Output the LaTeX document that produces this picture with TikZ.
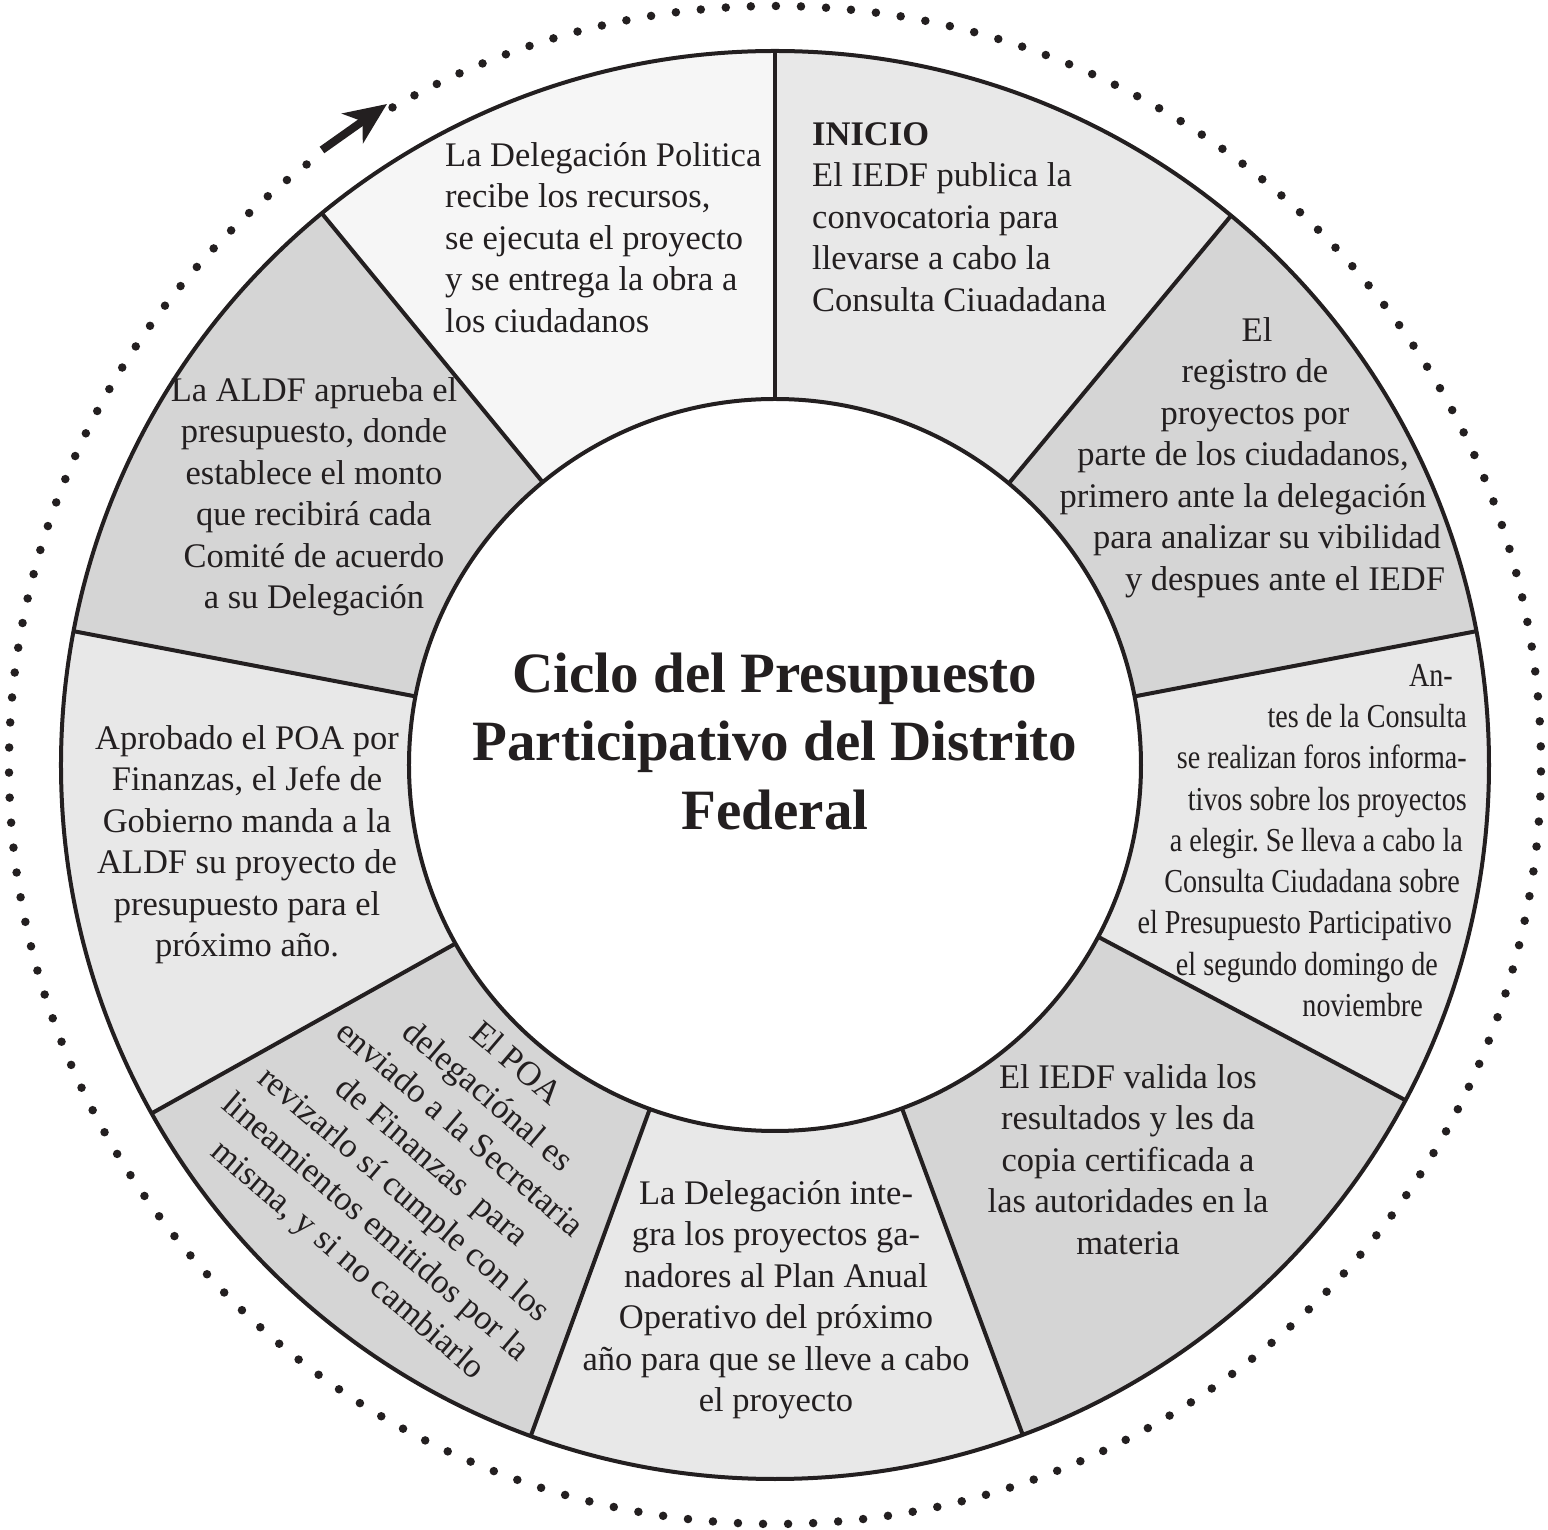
\documentclass[tikz,border=0pt]{standalone}
\usepackage{fontspec}
\setmainfont{Liberation Serif}
\newfontfamily\condfont[FakeStretch=0.84]{Liberation Serif}
\usetikzlibrary{arrows.meta}
\definecolor{ink}{HTML}{231F20}
\definecolor{segW}{gray}{0.965}
\definecolor{segL}{gray}{0.91}
\definecolor{segD}{gray}{0.835}
\newcommand\mygap[1]{\rule{#1}{0pt}}
\frenchspacing
\begin{document}
\begin{tikzpicture}[x=1pt,y=1pt,
  body/.style={inner sep=0pt, text=ink, font=\fontsize{34.5}{41.5}\selectfont},
  cond/.style={inner sep=0pt, text=ink, font=\condfont\fontsize{33.5}{41.3}\selectfont},
  ringline/.style={draw=ink, line width=4pt},
  dots/.style={draw=ink, line width=8.5pt, line cap=round, dash pattern=on 0pt off 25.07pt},
  bigarrow/.style={draw=ink, line width=8pt, -{Stealth[length=42pt,width=36pt,inset=12pt]}}
]
\useasboundingbox (-775,-765) rectangle (773,765);
\def\ri{366pt}\def\ro{714pt}
% sectors
\foreach \a/\b/\c in {90/129.4/segW, 50.3/90/segL, 10.8/50.3/segD, -28/10.8/segL,
  -69.7/-28/segD, -110/-69.7/segL, -150.8/-110/segD, 169.2/209.2/segL, 129.4/169.2/segD}
  \fill[\c] (\a:\ri) arc[start angle=\a, end angle=\b, radius=\ri]
    -- (\b:\ro) arc[start angle=\b, end angle=\a, radius=\ro] -- cycle;
% divider lines
\foreach \a in {90,50.3,10.8,-28,-69.7,-110,-150.8,169.2,129.4}
  \draw[ringline] (\a:\ri) -- (\a:\ro);
\draw[ringline] (0,0) circle[radius=\ro];
\draw[ringline, fill=white] (0,0) circle[radius=\ri];
% dotted ring and arrow
\draw[dots] (127.7:766pt and 759pt) arc[start angle=127.7, end angle=480.3, x radius=766pt, y radius=759pt];
\coordinate (arrtail) at (-453,615);
\coordinate (arrtip) at (-388,661);
\draw[bigarrow] (arrtail) -- (arrtip);
% texts
\node[body, align=left, anchor=north west] (t1) at (-330,628)
  {\strut La Delegación Politica\\ recibe los recursos,\\ se ejecuta el proyecto\\ y se entrega la obra a\\ los ciudadanos};
\node[body, align=left, anchor=north west] (t2) at (37,649)
  {\strut\textbf{INICIO}\\ El IEDF publica la\\ convocatoria para\\ llevarse a cabo la\\ Consulta Ciuadadana};
\node[body, align=center, anchor=north] (t3) at (468,453)
  {\mygap{28pt}\strut El\\ \mygap{24pt}registro de\\ \mygap{24pt}proyectos por\\ parte de los ciudadanos,\\ primero ante la delegación\\ \mygap{48pt}para analizar su vibilidad\\ \mygap{84pt}y despues ante el IEDF};
\node[cond, align=right, anchor=north east] (t4) at (692,108)
  {\strut An-\mygap{14pt}\\ tes de la Consulta\\ se realizan foros informa-\\ tivos sobre los proyectos\\ a elegir. Se lleva a cabo la\mygap{4pt}\\ Consulta Ciudadana sobre\mygap{7pt}\\ el Presupuesto Participativo\mygap{15pt}\\ el segundo domingo de\mygap{29pt}\\ noviembre\mygap{44pt}};
\node[body, align=center, anchor=north] (t5) at (353,-294)
  {\strut El IEDF valida los\\ resultados y les da\\ copia certificada a\\ las autoridades en la\\ materia};
\node[body, align=center, anchor=north] (t6) at (1,-410)
  {\strut La Delegación inte-\\ gra los proyectos ga-\\ nadores al Plan Anual\\ Operativo del próximo\\ año para que se lleve a cabo\\ el proyecto};
\node[body, align=center, rotate=-40.5, font=\fontsize{34.5}{43}\selectfont] (t7) at (-344,-398)
  {\strut El POA\\ delegaciónal es\\ enviado a la Secretaria\\ de Finanzas~ para\\ revizarlo sí cumple con los\\ lineamientos emitidos por la\\ misma, y si no cambiarlo\strut};
\node[body, align=center, anchor=north] (t8) at (-528,45)
  {\strut Aprobado el POA por\\ Finanzas, el Jefe de\\ Gobierno manda a la\\ ALDF su proyecto de\\ presupuesto para el\\ próximo año.};
\node[body, align=center, anchor=north] (t9) at (-461,393)
  {\strut La ALDF aprueba el\\ presupuesto, donde\\ establece el monto\\ que recibirá cada\\ Comité de acuerdo\\ a su Delegación};
\node[align=center, inner sep=0pt, text=ink, font=\bfseries\fontsize{57}{68.5}\selectfont] (title) at (0,18)
  {\strut Ciclo del Presupuesto\\ Participativo del Distrito\\ Federal\strut};
\end{tikzpicture}
\end{document}
